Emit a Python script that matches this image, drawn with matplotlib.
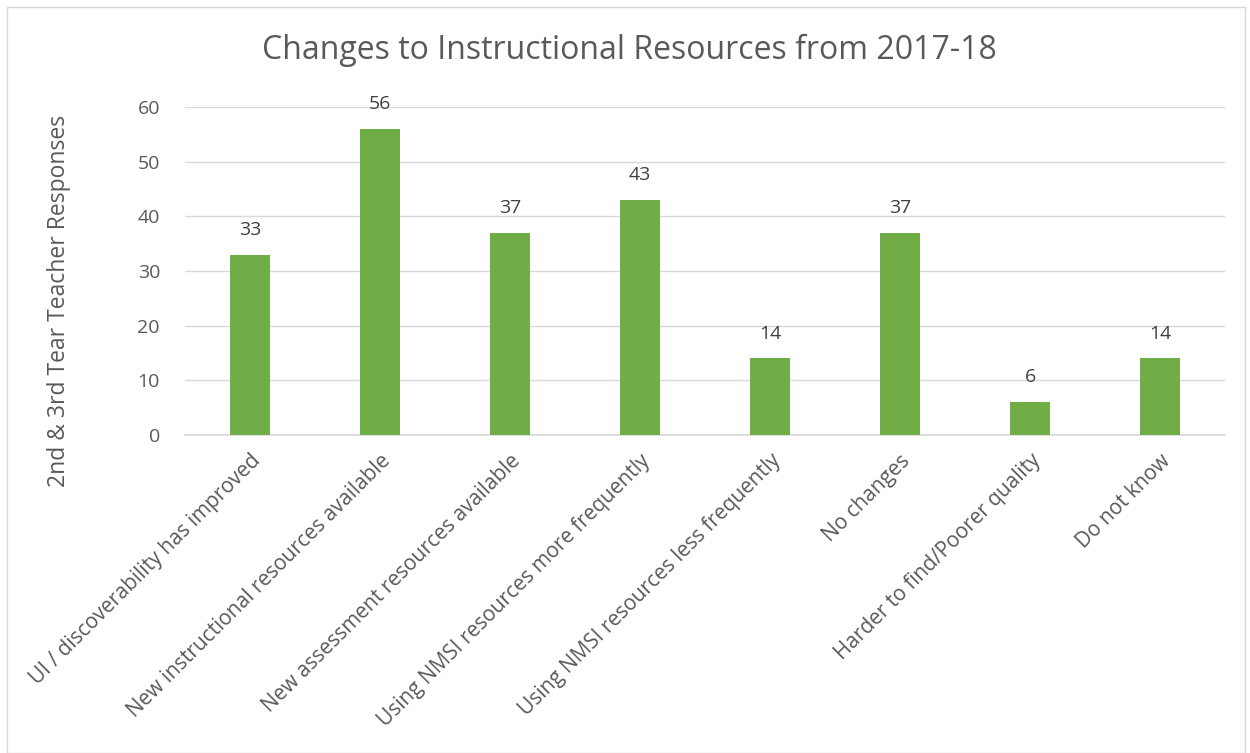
import matplotlib.pyplot as plt
from matplotlib.patches import Rectangle

categories = ['UI / discoverability has improved', 'New instructional resources available',
              'New assessment resources available', 'Using NMSI resources more frequently',
              'Using NMSI resources less frequently', 'No changes',
              'Harder to find/Poorer quality', 'Do not know']
responses = [33, 56, 37, 43, 14, 37, 6, 14]

plt.rcParams['font.family'] = ['Open Sans', 'DejaVu Sans']
grey = '#595959'

fig = plt.figure(figsize=(12.5, 7.53), dpi=100)
ax = fig.add_axes([185/1250, 1-435/753, 1040/1250, 328/753])

x = range(len(categories))
bars = ax.bar(x, responses, width=0.31, color='#70AD47', zorder=3)
for b, v in zip(bars, responses):
    ax.text(b.get_x()+b.get_width()/2, v+2.9, str(v), ha='center', va='bottom',
            fontsize=14, color='#404040')

ax.set_xlim(-0.5, len(categories)-0.5)
ax.set_ylim(0, 60)
ax.set_yticks(range(0, 61, 10))
ax.grid(axis='y', color='#D9D9D9', linewidth=1, zorder=0)
for s in ['top', 'right', 'left']:
    ax.spines[s].set_visible(False)
ax.spines['bottom'].set_color('#D9D9D9')
ax.spines['bottom'].set_linewidth(1.2)
ax.tick_params(axis='y', length=0, labelsize=14, labelcolor=grey, pad=18)
ax.tick_params(axis='x', length=0, labelsize=15, labelcolor=grey, pad=11)
ax.set_xticks(list(x))
ax.set_xticklabels(categories, rotation=45, ha='right', rotation_mode='anchor')
ax.set_ylabel('2nd & 3rd Tear Teacher Responses', fontsize=16.5, color=grey)
ax.yaxis.set_label_coords(-0.11, 0.41)

fig.text(629/1250, 1-50/753, 'Changes to Instructional Resources from 2017-18',
         ha='center', va='center', fontsize=23, color=grey)

fig.patches.append(Rectangle((7/1250, 0), 1238/1250, 1-7/753, transform=fig.transFigure,
                             fill=False, edgecolor='#D9D9D9', linewidth=1))

fig.savefig('out.png', dpi=100)
